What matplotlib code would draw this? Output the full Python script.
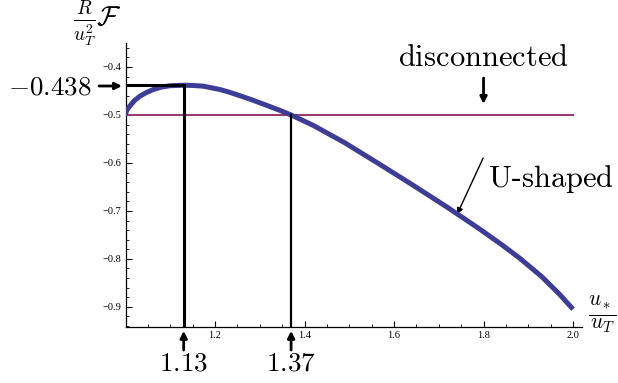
import matplotlib
matplotlib.use("Agg")
import matplotlib.pyplot as plt
from matplotlib.ticker import MultipleLocator, FixedLocator

plt.rcParams['mathtext.fontset'] = 'cm'
plt.rcParams['font.family'] = ['Liberation Serif', 'DejaVu Serif']

# U-shaped curve
u_ratio = [1.0, 1.002, 1.005, 1.010, 1.02, 1.032, 1.045, 1.062, 1.08, 1.10, 1.13,
           1.15, 1.174, 1.19, 1.211, 1.23, 1.248, 1.278, 1.31, 1.345, 1.37,
           1.42, 1.49, 1.57, 1.64, 1.72, 1.79, 1.84, 1.88, 1.93, 1.97, 2.0]
F_u = [-0.5, -0.492, -0.487, -0.481, -0.470, -0.461, -0.454, -0.447, -0.442, -0.439, -0.438,
       -0.4385, -0.440, -0.443, -0.447, -0.452, -0.4575, -0.467, -0.478, -0.4905, -0.500,
       -0.522, -0.558, -0.604, -0.645, -0.693, -0.737, -0.770, -0.798, -0.837, -0.874, -0.905]

# disconnected solution
disc_x = [1.0, 2.0]
disc_y = [-0.5, -0.5]

x_peak, y_peak = 1.13, -0.438
x_cross = 1.37

xticks = [1.2, 1.4, 1.6, 1.8, 2.0]
xticklabels = ["1.2", "1.4", "1.6", "1.8", "2.0"]
yticks = [-0.9, -0.8, -0.7, -0.6, -0.5, -0.4]
yticklabels = ["\u22120.9", "\u22120.8", "\u22120.7", "\u22120.6", "\u22120.5", "\u22120.4"]

W, H = 618, 383
fig = plt.figure(figsize=(W / 100, H / 100), dpi=100)
ax = fig.add_axes([125.5 / W, 56 / H, (582 - 125.5) / W, (327 - 43) / H])
xmin, xmax = 1.0, 2.02
ymin, ymax = -0.942, -0.35
ax.set_xlim(xmin, xmax)
ax.set_ylim(ymin, ymax)

for s in ['top', 'right']:
    ax.spines[s].set_visible(False)
for s in ['left', 'bottom']:
    ax.spines[s].set_linewidth(0.9)

ax.xaxis.set_major_locator(FixedLocator(xticks))
ax.set_xticklabels(xticklabels)
ax.xaxis.set_minor_locator(MultipleLocator(0.05))
ax.yaxis.set_major_locator(FixedLocator(yticks))
ax.set_yticklabels(yticklabels)
ax.yaxis.set_minor_locator(MultipleLocator(0.02))
ax.tick_params(which='major', direction='in', length=4, width=0.8, labelsize=7.5, pad=3)
ax.tick_params(which='minor', direction='in', length=2, width=0.6)

disc_col = '#993d71'
u_col = '#3d3d99'
ax.plot(disc_x, disc_y, color=disc_col, lw=1.5, zorder=3)
ax.plot(u_ratio, F_u, color=u_col, lw=3.6, zorder=4, solid_capstyle='butt',
        solid_joinstyle='round')

# marker lines
ax.plot([xmin, x_peak], [y_peak, y_peak], color='black', lw=2.2, zorder=5)
ax.plot([x_peak, x_peak], [ymin, y_peak], color='black', lw=2.2, zorder=5)
ax.plot([x_cross, x_cross], [ymin, -0.5], color='black', lw=1.6, zorder=5)

fs_num = 19.5
fs_word = 22
ap = dict(arrowstyle='-|>', color='black', lw=2.0, mutation_scale=10, shrinkA=0, shrinkB=0)
ap_thin = dict(arrowstyle='-|>', color='black', lw=1.0, mutation_scale=9, shrinkA=0, shrinkB=0)

def px(x, y):
    return fig.transFigure.inverted().transform((x, H - y))

# -0.438 label with arrow
ax.annotate('', xy=px(122, 86), xytext=px(99, 86), xycoords='figure fraction',
            textcoords='figure fraction', arrowprops=ap, annotation_clip=False)
fig.text(*px(50, 88), r'$-0.438$', fontsize=fs_num, ha='center', va='center')

# 1.13 and 1.37 labels with arrows from below
for xv, lab in [(x_peak, r'$1.13$'), (x_cross, r'$1.37$')]:
    ax.annotate('', xy=(xv, ymin - 0.008), xycoords='data',
                xytext=(xv, ymin - 0.048), textcoords='data',
                arrowprops=ap, annotation_clip=False)
    ax.text(xv, ymin - 0.077, lab, fontsize=fs_num, ha='center', va='center', clip_on=False)

# disconnected
ax.annotate('', xy=(1.8, -0.477), xytext=(1.8, -0.423),
            arrowprops=ap, annotation_clip=False)
ax.text(1.8, -0.383, r'$\mathrm{disconnected}$', fontsize=fs_word, ha='center', va='center')

# U-shaped
ax.annotate('', xy=(1.741, -0.707), xytext=(1.799, -0.59), arrowprops=ap_thin,
            annotation_clip=False)
ax.text(1.81, -0.633, r'$\mathrm{U}$-$\mathrm{shaped}$', fontsize=fs_word, ha='left',
        va='center', clip_on=False)

# axis labels
fig.text(*px(97, 24), r'$\frac{R}{u_T^2}\mathcal{F}$', fontsize=20, ha='center', va='center')
fig.text(*px(602, 315), r'$\frac{u_*}{u_T}$', fontsize=22, ha='center', va='center')

fig.savefig('out.png', dpi=100)
